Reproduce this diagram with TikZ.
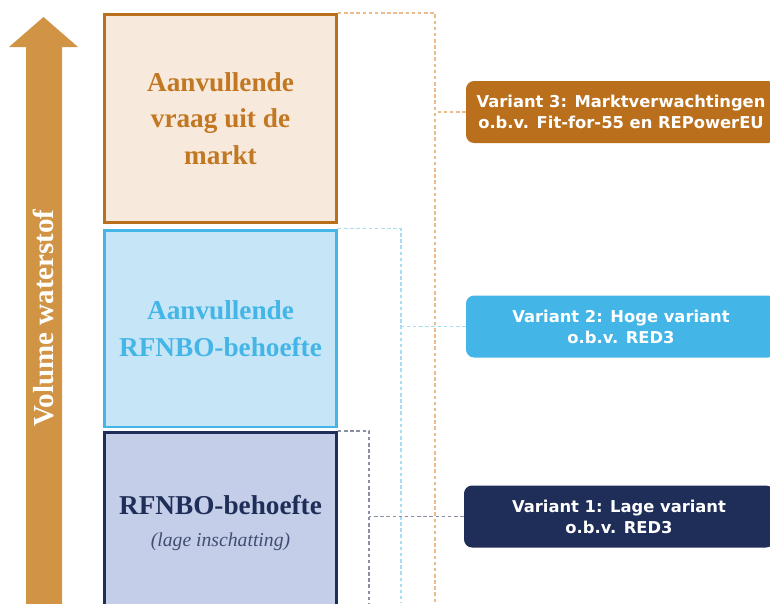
\documentclass[tikz,border=0pt]{standalone}
\usepackage{fontspec}
\setmainfont{Liberation Serif}
\newfontfamily\variantfont{DejaVu Sans}
\usepackage{xcolor}
\usepackage{tikz}
\usetikzlibrary{positioning,calc}
\definecolor{pijl}{RGB}{209,148,69}
\definecolor{markt}{RGB}{186,111,28}
\definecolor{marktfill}{RGB}{247,234,220}
\definecolor{markttext}{RGB}{194,120,35}
\definecolor{hoog}{RGB}{67,181,230}
\definecolor{hoogfill}{RGB}{198,230,248}
\definecolor{laag}{RGB}{31,46,88}
\definecolor{laagfill}{RGB}{197,206,232}
\definecolor{marktlijn}{RGB}{235,187,140}
\definecolor{hooglijn}{RGB}{169,221,245}
\definecolor{laaglijn}{RGB}{138,143,163}

\begin{document}
\begin{tikzpicture}[x=0.02cm,y=-0.02cm,
    blok/.style={draw,line width=1.7pt,minimum width=4.64cm,align=center,
      font=\bfseries\fontsize{15.5}{20.7}\selectfont},
    variant/.style={rounded corners=0.16cm,minimum width=6.2cm,minimum height=1.24cm,
      align=center,text=white,font=\variantfont\bfseries\fontsize{9.3}{12}\selectfont},
    lijn/.style={line width=0.8pt,dash pattern=on 2pt off 1.5pt}]
  \useasboundingbox (0,0) rectangle (770,603);
  % pijl links
  \fill[pijl] (26,640) -- (26,47) -- (9,47) -- (43.5,17) -- (78,47) -- (62,47) -- (62,640) -- cycle;
  \node[rotate=90,text=white,font=\bfseries\fontsize{16.5}{20}\selectfont] (volume) at (44,318) {Volume waterstof};
  % blokken
  \node[blok,draw=markt,fill=marktfill,text=markttext,minimum height=4.16cm] (markt) at (220.5,118.5)
    {Aanvullende\\vraag uit de\\markt};
  \node[blok,draw=hoog,fill=hoogfill,text=hoog,minimum height=3.94cm] (hoog) at (220.5,328.5)
    {Aanvullende\\RFNBO-behoefte};
  \node[blok,draw=laag,fill=laagfill,text=laag,minimum height=3.62cm] (laag) at (220.5,523)
    {RFNBO-behoefte\\[-2.6pt]{\mdseries\itshape\fontsize{11.2}{13}\selectfont\color{laag!85} (lage inschatting)}};
  % varianten
  \node[variant,fill=markt] (v3) at (621,112) {Variant 3: Marktverwachtingen\\o.b.v. Fit-for-55 en REPowerEU};
  \node[variant,fill=hoog] (v2) at (621,326.5) {Variant 2: Hoge variant\\o.b.v. RED3};
  \node[variant,fill=laag] (v1) at (619,516.5) {Variant 1: Lage variant\\o.b.v. RED3};
  % stippellijnen
  \coordinate (e3) at (435,603);
  \coordinate (e2) at (401,603);
  \coordinate (e1) at (369,603);
  \draw[lijn,marktlijn] (markt.north east) -| (e3);
  \draw[lijn,marktlijn] (v3.west) -- (v3.west -| e3);
  \draw[lijn,hooglijn] (hoog.north east) -| (e2);
  \draw[lijn,hooglijn] (v2.west) -- (v2.west -| e2);
  \draw[lijn,laaglijn] (laag.north east) -| (e1);
  \draw[lijn,laaglijn] (v1.west) -- (v1.west -| e1);
\end{tikzpicture}
\end{document}
